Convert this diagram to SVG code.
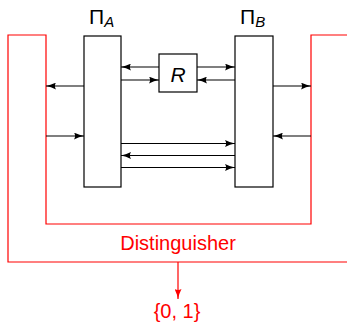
<svg xmlns="http://www.w3.org/2000/svg" width="347" height="324" viewBox="0 0 347 324">
<style>
.box{fill:#fff;stroke:#000;stroke-width:1.2}
.ln{fill:none;stroke:#000;stroke-width:1.2}
.red{fill:none;stroke:#ff0000;stroke-width:1.2}
.t{font-family:"Liberation Sans",Arial,sans-serif;font-size:21px;fill:#000}
.tr{font-family:"Liberation Sans",Arial,sans-serif;font-size:20px;fill:#ff0000}
.it{font-style:italic}
</style>
<defs>
<marker id="ah" markerUnits="userSpaceOnUse" viewBox="0 0 10 7" refX="10" refY="3.5" markerWidth="10" markerHeight="7" orient="auto">
<path d="M0,0 Q5,2.6 10,3.5 Q5,4.4 0,7 Q2.2,3.5 0,0 Z" fill="#000"/>
</marker>
<marker id="ahr" markerUnits="userSpaceOnUse" viewBox="0 0 10 7" refX="10" refY="3.5" markerWidth="10" markerHeight="7" orient="auto">
<path d="M0,0 Q5,2.6 10,3.5 Q5,4.4 0,7 Q2.2,3.5 0,0 Z" fill="#ff0000"/>
</marker>
</defs>
<g id="distinguisher">
<path class="red" d="M8,35 H46 V224 H311 V35 H352 V262 H8 Z"/>
<text class="tr" x="178" y="250" text-anchor="middle">Distinguisher</text>
</g>
<g id="output">
<text class="tr" x="177" y="318" text-anchor="middle" font-size="21">{0, 1}</text>
</g>
<g id="PiA">
<rect class="box" x="84" y="36" width="37" height="151"/>
<text class="t" x="89" y="24">Π<tspan class="it" font-size="15" dy="3">A</tspan></text>
</g>
<g id="PiB">
<rect class="box" x="235" y="36" width="38" height="151"/>
<text class="t" x="240" y="24">Π<tspan class="it" font-size="15" dy="3">B</tspan></text>
</g>
<g id="R">
<rect class="box" x="159" y="54" width="38" height="38"/>
<text class="t it" x="178" y="82" text-anchor="middle" font-size="22">R</text>
</g>
<g id="connectors">
<line class="ln" x1="159" y1="67" x2="121" y2="67" marker-end="url(#ah)"/>
<line class="ln" x1="121" y1="80" x2="159" y2="80" marker-end="url(#ah)"/>
<line class="ln" x1="197" y1="67" x2="235" y2="67" marker-end="url(#ah)"/>
<line class="ln" x1="235" y1="80" x2="197" y2="80" marker-end="url(#ah)"/>
<line class="ln" x1="84" y1="86" x2="46" y2="86" marker-end="url(#ah)"/>
<line class="ln" x1="46" y1="136" x2="84" y2="136" marker-end="url(#ah)"/>
<line class="ln" x1="273" y1="86" x2="311" y2="86" marker-end="url(#ah)"/>
<line class="ln" x1="311" y1="136" x2="273" y2="136" marker-end="url(#ah)"/>
<line class="ln" x1="121" y1="143.5" x2="235" y2="143.5" marker-end="url(#ah)"/>
<line class="ln" x1="235" y1="155.5" x2="121" y2="155.5" marker-end="url(#ah)"/>
<line class="ln" x1="121" y1="167.5" x2="235" y2="167.5" marker-end="url(#ah)"/>
<line class="red" x1="178" y1="262" x2="178" y2="299" marker-end="url(#ahr)"/>
</g>
</svg>
